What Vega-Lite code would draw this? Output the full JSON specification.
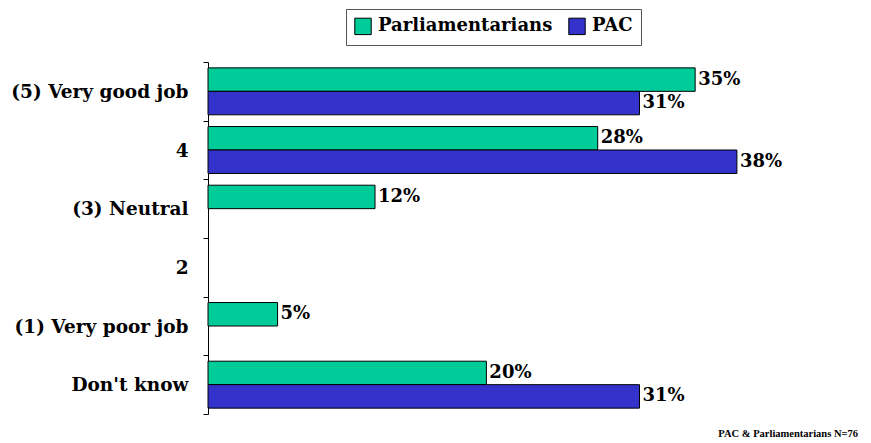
{
  "$schema": "https://vega.github.io/schema/vega-lite/v6.json",
  "autosize": {"type": "none"},
  "padding": {"left": 208, "top": 62, "right": 13, "bottom": 29},
  "width": 650,
  "height": 352,
  "background": "white",
  "config": {
    "view": {"stroke": null},
    "font": "DejaVu Serif"
  },
  "title": {
    "text": "PAC & Parliamentarians N=76",
    "orient": "bottom",
    "anchor": "end",
    "font": "Liberation Serif",
    "fontSize": 10.5,
    "fontWeight": "bold",
    "color": "black",
    "offset": 14,
    "baseline": "top"
  },
  "data": {
    "values": [
      {"category": "(5) Very good job", "group": "Parliamentarians", "value": 35},
      {"category": "(5) Very good job", "group": "PAC", "value": 31},
      {"category": "4", "group": "Parliamentarians", "value": 28},
      {"category": "4", "group": "PAC", "value": 38},
      {"category": "(3) Neutral", "group": "Parliamentarians", "value": 12},
      {"category": "(1) Very poor job", "group": "Parliamentarians", "value": 5},
      {"category": "Don't know", "group": "Parliamentarians", "value": 20},
      {"category": "Don't know", "group": "PAC", "value": 31}
    ]
  },
  "transform": [{"calculate": "datum.value + '%'", "as": "label"}],
  "encoding": {
    "y": {
      "field": "category",
      "type": "nominal",
      "scale": {
        "domain": ["(5) Very good job", "4", "(3) Neutral", "2", "(1) Very poor job", "Don't know"],
        "paddingInner": 0,
        "paddingOuter": 0
      },
      "axis": {
        "title": null,
        "domainColor": "black",
        "tickColor": "black",
        "tickSize": 5,
        "tickBand": "extent",
        "labelFont": "DejaVu Serif",
        "labelFontSize": 18.5,
        "labelFontWeight": "bold",
        "labelColor": "black",
        "labelPadding": 15,
        "labelLimit": 0,
        "grid": false
      }
    },
    "yOffset": {
      "field": "group",
      "type": "nominal",
      "scale": {"domain": ["Parliamentarians", "PAC"], "paddingOuter": 0.25, "paddingInner": 0}
    },
    "x": {
      "field": "value",
      "type": "quantitative",
      "scale": {"domain": [0, 46.7], "nice": false},
      "axis": null
    }
  },
  "layer": [
    {
      "mark": {"type": "bar", "stroke": "black", "strokeWidth": 1},
      "encoding": {
        "color": {
          "field": "group",
          "type": "nominal",
          "scale": {"domain": ["Parliamentarians", "PAC"], "range": ["#00CC99", "#3333CC"]},
          "legend": {
            "title": null,
            "orient": "none",
            "direction": "horizontal",
            "legendX": 138,
            "legendY": -53,
            "padding": 8,
            "strokeColor": "#555555",
            "fillColor": "white",
            "symbolType": "square",
            "symbolSize": 270,
            "symbolStrokeColor": "black",
            "symbolStrokeWidth": 1,
            "symbolOpacity": 1,
            "labelFont": "DejaVu Serif",
            "labelFontSize": 18,
            "labelFontWeight": "bold",
            "labelColor": "black",
            "labelOffset": 6,
            "labelLimit": 0,
            "columnPadding": 13
          }
        }
      }
    },
    {
      "mark": {
        "type": "text",
        "align": "left",
        "baseline": "middle",
        "dx": 3,
        "font": "DejaVu Serif",
        "fontSize": 18,
        "fontWeight": "bold",
        "color": "black"
      },
      "encoding": {
        "text": {"field": "label", "type": "nominal"}
      }
    }
  ]
}
